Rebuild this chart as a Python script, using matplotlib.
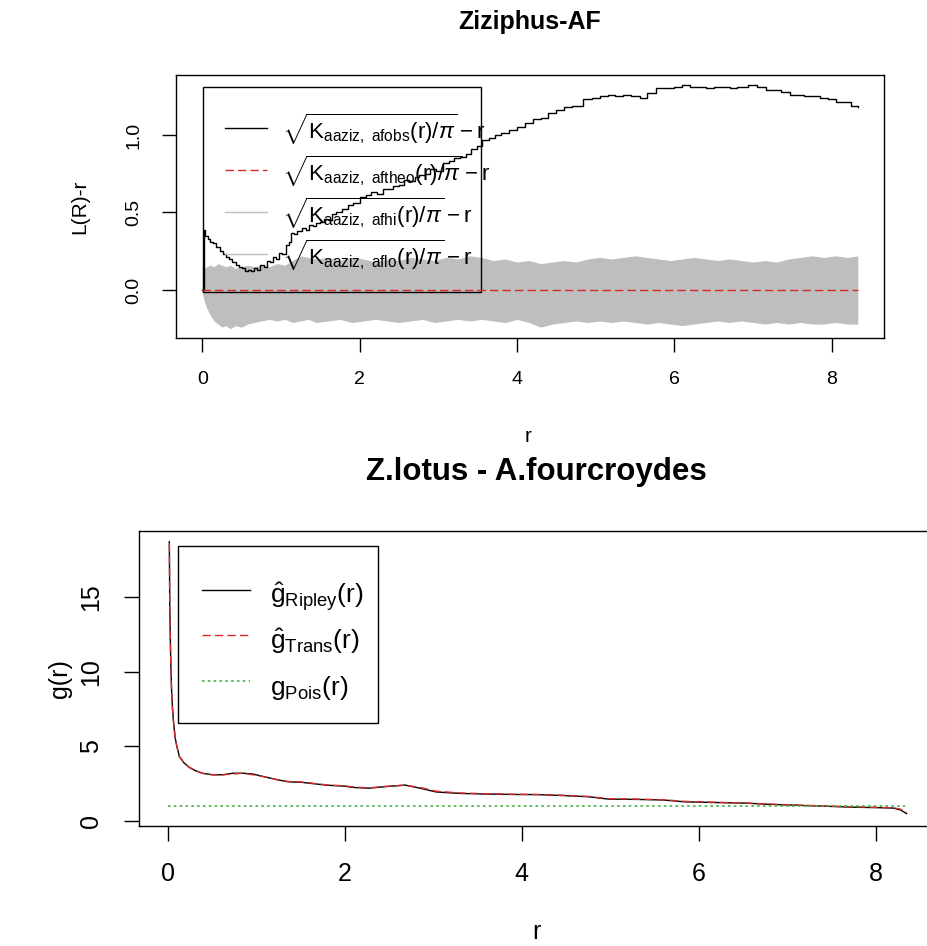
import matplotlib
matplotlib.use("Agg")
import matplotlib.pyplot as plt
from matplotlib.lines import Line2D
from matplotlib.patches import Rectangle

plt.rcParams['font.family'] = ['Liberation Sans', 'DejaVu Sans']
plt.rcParams['mathtext.fontset'] = 'custom'
plt.rcParams['mathtext.rm'] = 'Liberation Sans'
plt.rcParams['mathtext.it'] = 'Liberation Sans:italic'
plt.rcParams['mathtext.bf'] = 'Liberation Sans:bold'

# --- top panel: L(r) - r with simulation envelope ---
r_obs = [0.00, 0.02, 0.04, 0.07, 0.10, 0.14, 0.18, 0.22, 0.26, 0.30,
         0.34, 0.38, 0.43, 0.47, 0.51, 0.55, 0.58, 0.62, 0.66, 0.70,
         0.74, 0.78, 0.82, 0.86, 0.90, 0.94, 0.98, 1.02, 1.06, 1.10,
         1.13, 1.17, 1.21, 1.27, 1.32, 1.36, 1.41, 1.45, 1.50, 1.55,
         1.60, 1.65, 1.70, 1.77, 1.85, 1.92, 2.00, 2.08, 2.15, 2.22,
         2.30, 2.42, 2.50, 2.56, 2.63, 2.70, 2.76, 2.83, 2.90, 2.97,
         3.06, 3.13, 3.20, 3.28, 3.35, 3.42, 3.49, 3.56, 3.64, 3.72,
         3.80, 3.90, 4.00, 4.10, 4.20, 4.30, 4.40, 4.50, 4.60, 4.70,
         4.84, 4.95, 5.05, 5.15, 5.25, 5.35, 5.45, 5.56, 5.65, 5.77,
         5.90, 6.00, 6.10, 6.20, 6.30, 6.40, 6.50, 6.60, 6.70, 6.80,
         6.94, 7.05, 7.17, 7.25, 7.35, 7.47, 7.56, 7.65, 7.75, 7.85,
         7.95, 8.05, 8.15, 8.25, 8.33]
l_obs = [0.00, 0.39, 0.35, 0.33, 0.31, 0.30, 0.28, 0.25, 0.23, 0.21,
         0.20, 0.18, 0.16, 0.15, 0.14, 0.12, 0.13, 0.12, 0.14, 0.13,
         0.16, 0.15, 0.19, 0.18, 0.21, 0.20, 0.24, 0.23, 0.29, 0.31,
         0.37, 0.36, 0.38, 0.40, 0.39, 0.42, 0.41, 0.43, 0.44, 0.46,
         0.45, 0.49, 0.50, 0.52, 0.55, 0.56, 0.60, 0.61, 0.63, 0.62,
         0.65, 0.67, 0.68, 0.71, 0.70, 0.73, 0.74, 0.75, 0.78, 0.77,
         0.82, 0.83, 0.85, 0.86, 0.88, 0.91, 0.93, 0.97, 0.98, 1.00,
         1.01, 1.03, 1.05, 1.08, 1.10, 1.11, 1.14, 1.16, 1.18, 1.19,
         1.23, 1.24, 1.25, 1.26, 1.25, 1.26, 1.25, 1.24, 1.27, 1.30,
         1.30, 1.31, 1.32, 1.31, 1.31, 1.30, 1.31, 1.31, 1.30, 1.31,
         1.32, 1.31, 1.29, 1.29, 1.28, 1.26, 1.26, 1.25, 1.25, 1.24,
         1.23, 1.21, 1.21, 1.19, 1.18]
r_theo = [0.0, 8.33]
l_theo = [0.0, 0.0]

r_env = [0.00, 0.03, 0.06, 0.10, 0.15, 0.20, 0.25, 0.30, 0.36, 0.42,
         0.50, 0.58, 0.66, 0.75, 0.85, 0.95, 1.05, 1.15, 1.25, 1.35,
         1.45, 1.60, 1.75, 1.90, 2.05, 2.20, 2.35, 2.50, 2.65, 2.80,
         2.95, 3.10, 3.25, 3.40, 3.55, 3.70, 3.85, 4.00, 4.15, 4.30,
         4.45, 4.60, 4.75, 4.90, 5.05, 5.20, 5.35, 5.50, 5.65, 5.80,
         5.95, 6.10, 6.25, 6.40, 6.55, 6.70, 6.85, 7.00, 7.15, 7.30,
         7.45, 7.60, 7.75, 7.90, 8.05, 8.20, 8.33]
l_hi = [0.15, 0.14, 0.15, 0.16, 0.15, 0.17, 0.16, 0.15, 0.16, 0.14,
        0.15, 0.16, 0.15, 0.16, 0.15, 0.17, 0.16, 0.19, 0.22, 0.21,
        0.20, 0.21, 0.19, 0.21, 0.20, 0.18, 0.20, 0.19, 0.21, 0.20,
        0.19, 0.21, 0.20, 0.22, 0.21, 0.19, 0.20, 0.18, 0.19, 0.17,
        0.18, 0.19, 0.18, 0.20, 0.21, 0.20, 0.21, 0.22, 0.21, 0.20,
        0.19, 0.20, 0.21, 0.20, 0.19, 0.20, 0.19, 0.18, 0.19, 0.18,
        0.20, 0.21, 0.22, 0.21, 0.22, 0.21, 0.22]
l_lo = [-0.02, -0.08, -0.12, -0.16, -0.20, -0.22, -0.24, -0.23, -0.25, -0.23,
        -0.24, -0.22, -0.21, -0.20, -0.19, -0.20, -0.19, -0.21, -0.20, -0.19,
        -0.21, -0.20, -0.19, -0.21, -0.20, -0.19, -0.20, -0.21, -0.20, -0.19,
        -0.21, -0.20, -0.19, -0.20, -0.19, -0.20, -0.21, -0.19, -0.21, -0.24,
        -0.22, -0.21, -0.20, -0.21, -0.20, -0.21, -0.20, -0.21, -0.22, -0.21,
        -0.22, -0.23, -0.22, -0.21, -0.20, -0.21, -0.20, -0.21, -0.22, -0.21,
        -0.22, -0.21, -0.22, -0.22, -0.21, -0.22, -0.22]

top_xticks = [0, 2, 4, 6, 8]
top_yticks = [0.0, 0.5, 1.0]
top_ytick_labels = ['0.0', '0.5', '1.0']

# --- bottom panel: pair correlation g(r) ---
r_g = [0.015, 0.02, 0.03, 0.04, 0.05, 0.06, 0.08, 0.10, 0.13, 0.18, 0.24, 0.30,
       0.39, 0.50, 0.62, 0.73, 0.85, 0.96, 1.10, 1.25, 1.36, 1.50, 1.65, 1.80,
       1.99, 2.10, 2.27, 2.45, 2.68, 2.85, 3.03, 3.30, 3.60, 3.90, 4.18, 4.50,
       4.75, 4.98, 5.30, 5.60, 5.84, 6.20, 6.53, 6.80, 7.05, 7.40, 7.74, 8.00,
       8.20, 8.28, 8.35]
g_ripley = [18.7, 14.3, 11.0, 8.8, 7.6, 6.8, 5.6, 5.0, 4.3, 3.9, 3.6, 3.4,
            3.2, 3.1, 3.1, 3.2, 3.2, 3.15, 2.95, 2.75, 2.63, 2.60, 2.50, 2.40,
            2.34, 2.25, 2.20, 2.30, 2.41, 2.20, 1.95, 1.85, 1.81, 1.78, 1.77, 1.70,
            1.63, 1.47, 1.45, 1.41, 1.29, 1.24, 1.20, 1.12, 1.07, 1.00, 0.93, 0.90,
            0.87, 0.75, 0.50]
g_trans = [18.6, 14.2, 11.0, 8.8, 7.6, 6.8, 5.6, 5.0, 4.3, 3.9, 3.6, 3.4,
           3.2, 3.1, 3.1, 3.15, 3.2, 3.1, 2.95, 2.75, 2.65, 2.62, 2.52, 2.42,
           2.36, 2.28, 2.22, 2.32, 2.40, 2.25, 2.00, 1.88, 1.83, 1.80, 1.78, 1.72,
           1.65, 1.50, 1.47, 1.43, 1.32, 1.26, 1.21, 1.14, 1.08, 1.02, 0.95, 0.92,
           0.89, 0.80, 0.60]
r_pois = [0.0, 8.33]
g_pois = [1.0, 1.0]

bot_xticks = [0, 2, 4, 6, 8]
bot_yticks = [0, 5, 10, 15]

RED = '#d42a2a'
GREEN = '#3fb23f'
GREY = '#bebebe'
DASH = (0, (6, 3))

W, H = 928, 946
fig = plt.figure(figsize=(W / 100, H / 100), dpi=100)


def box(left, top, right, bottom):
    return [left / W, 1 - bottom / H, (right - left) / W, (bottom - top) / H]


# top panel
ax1 = fig.add_axes(box(176, 75, 884, 338))
ax1.fill_between(r_env, l_lo, l_hi, color=GREY, linewidth=0)
ax1.plot(r_obs, l_obs, color='black', lw=1.0, drawstyle='steps-post')
ax1.plot(r_theo, l_theo, color=RED, lw=1.0, ls=DASH)
ax1.set_xlim(-0.333, 8.663)
ax1.set_ylim(-0.31, 1.387)
ax1.set_xticks(top_xticks)
ax1.set_yticks(top_yticks)
ax1.set_yticklabels(top_ytick_labels, rotation=90, va='center')
ax1.tick_params(direction='out', length=10, width=1, labelsize=14, pad=14)
for s in ax1.spines.values():
    s.set_linewidth(1)

lab_obs = r'$\sqrt{\mathrm{K}_{\mathrm{aaziz,\ afobs}}(\mathrm{r})/\pi}-\mathrm{r}$'
lab_theo = r'$\sqrt{\mathrm{K}_{\mathrm{aaziz,\ aftheo}}(\mathrm{r})/\pi}-\mathrm{r}$'
lab_hi = r'$\sqrt{\mathrm{K}_{\mathrm{aaziz,\ afhi}}(\mathrm{r})/\pi}-\mathrm{r}$'
lab_lo = r'$\sqrt{\mathrm{K}_{\mathrm{aaziz,\ aflo}}(\mathrm{r})/\pi}-\mathrm{r}$'
h1 = [Line2D([], [], color='black', lw=1.0),
      Line2D([], [], color=RED, lw=1.0, ls=DASH),
      Line2D([], [], color=GREY, lw=1.0),
      Line2D([], [], color=GREY, lw=1.0)]
fs1 = 16
leg1 = ax1.legend(h1, [lab_obs, lab_theo, lab_hi, lab_lo], loc='upper left',
                  bbox_to_anchor=(49 / 708, (338 - 112) / 263), fontsize=fs1,
                  frameon=False, handlelength=30 / fs1, handleheight=31.7 / fs1,
                  labelspacing=0.2, borderaxespad=0, borderpad=0,
                  handletextpad=10.8 / fs1)
ax1.add_patch(Rectangle((27 / 708, 46 / 263), 278 / 708, 205 / 263,
                        transform=ax1.transAxes, fill=False, ec='black', lw=1))

fig.text(530 / W, 1 - 22 / H, 'Ziziphus-AF', ha='center', va='center',
         fontsize=18, fontweight='bold')
fig.text(528 / W, 1 - 436 / H, 'r', ha='center', va='center', fontsize=15)
fig.text(80 / W, 1 - 207 / H, 'L(R)-r', ha='center', va='center',
         fontsize=15, rotation=90)

# bottom panel
ax2 = fig.add_axes(box(139, 531, 934, 826))
ax2.plot(r_g, g_ripley, color='black', lw=1.0)
ax2.plot(r_g, g_trans, color=RED, lw=1.0, ls=DASH)
ax2.plot(r_pois, g_pois, color=GREEN, lw=1.2, ls=(0, (1.5, 2)))
ax2.set_xlim(-0.328, 8.66)
ax2.set_ylim(-0.33, 19.42)
ax2.set_xticks(bot_xticks)
ax2.set_yticks(bot_yticks)
ax2.set_yticklabels([str(v) for v in bot_yticks], rotation=90, va='center')
ax2.tick_params(direction='out', length=11, width=1, labelsize=18, pad=15)
for s in ax2.spines.values():
    s.set_linewidth(1)

h2 = [Line2D([], [], color='black', lw=1.0),
      Line2D([], [], color=RED, lw=1.0, ls=DASH),
      Line2D([], [], color=GREEN, lw=1.2, ls=(0, (1.5, 2)))]
lab2 = [r'$\hat{\mathrm{g}}_{\mathrm{Ripley}}(\mathrm{r})$',
        r'$\hat{\mathrm{g}}_{\mathrm{Trans}}(\mathrm{r})$',
        r'$\mathrm{g}_{\mathrm{Pois}}(\mathrm{r})$']
fs2 = 19
leg2 = ax2.legend(h2, lab2, loc='upper left',
                  bbox_to_anchor=(63 / 795, (826 - 576) / 295), fontsize=fs2,
                  frameon=False, handlelength=34.6 / fs2, handleheight=34.6 / fs2,
                  labelspacing=0.3, borderaxespad=0, borderpad=0,
                  handletextpad=14.4 / fs2)
ax2.add_patch(Rectangle((39 / 795, 103 / 295), 200 / 795, 177 / 295,
                        transform=ax2.transAxes, fill=False, ec='black', lw=1))

fig.text(536 / W, 1 - 472 / H, 'Z.lotus - A.fourcroydes', ha='center',
         va='center', fontsize=22.5, fontweight='bold')
fig.text(536 / W, 1 - 932 / H, 'r', ha='center', va='center', fontsize=18)
fig.text(60 / W, 1 - 679 / H, 'g(r)', ha='center', va='center',
         fontsize=18, rotation=90)

fig.savefig('out.png', dpi=100)
